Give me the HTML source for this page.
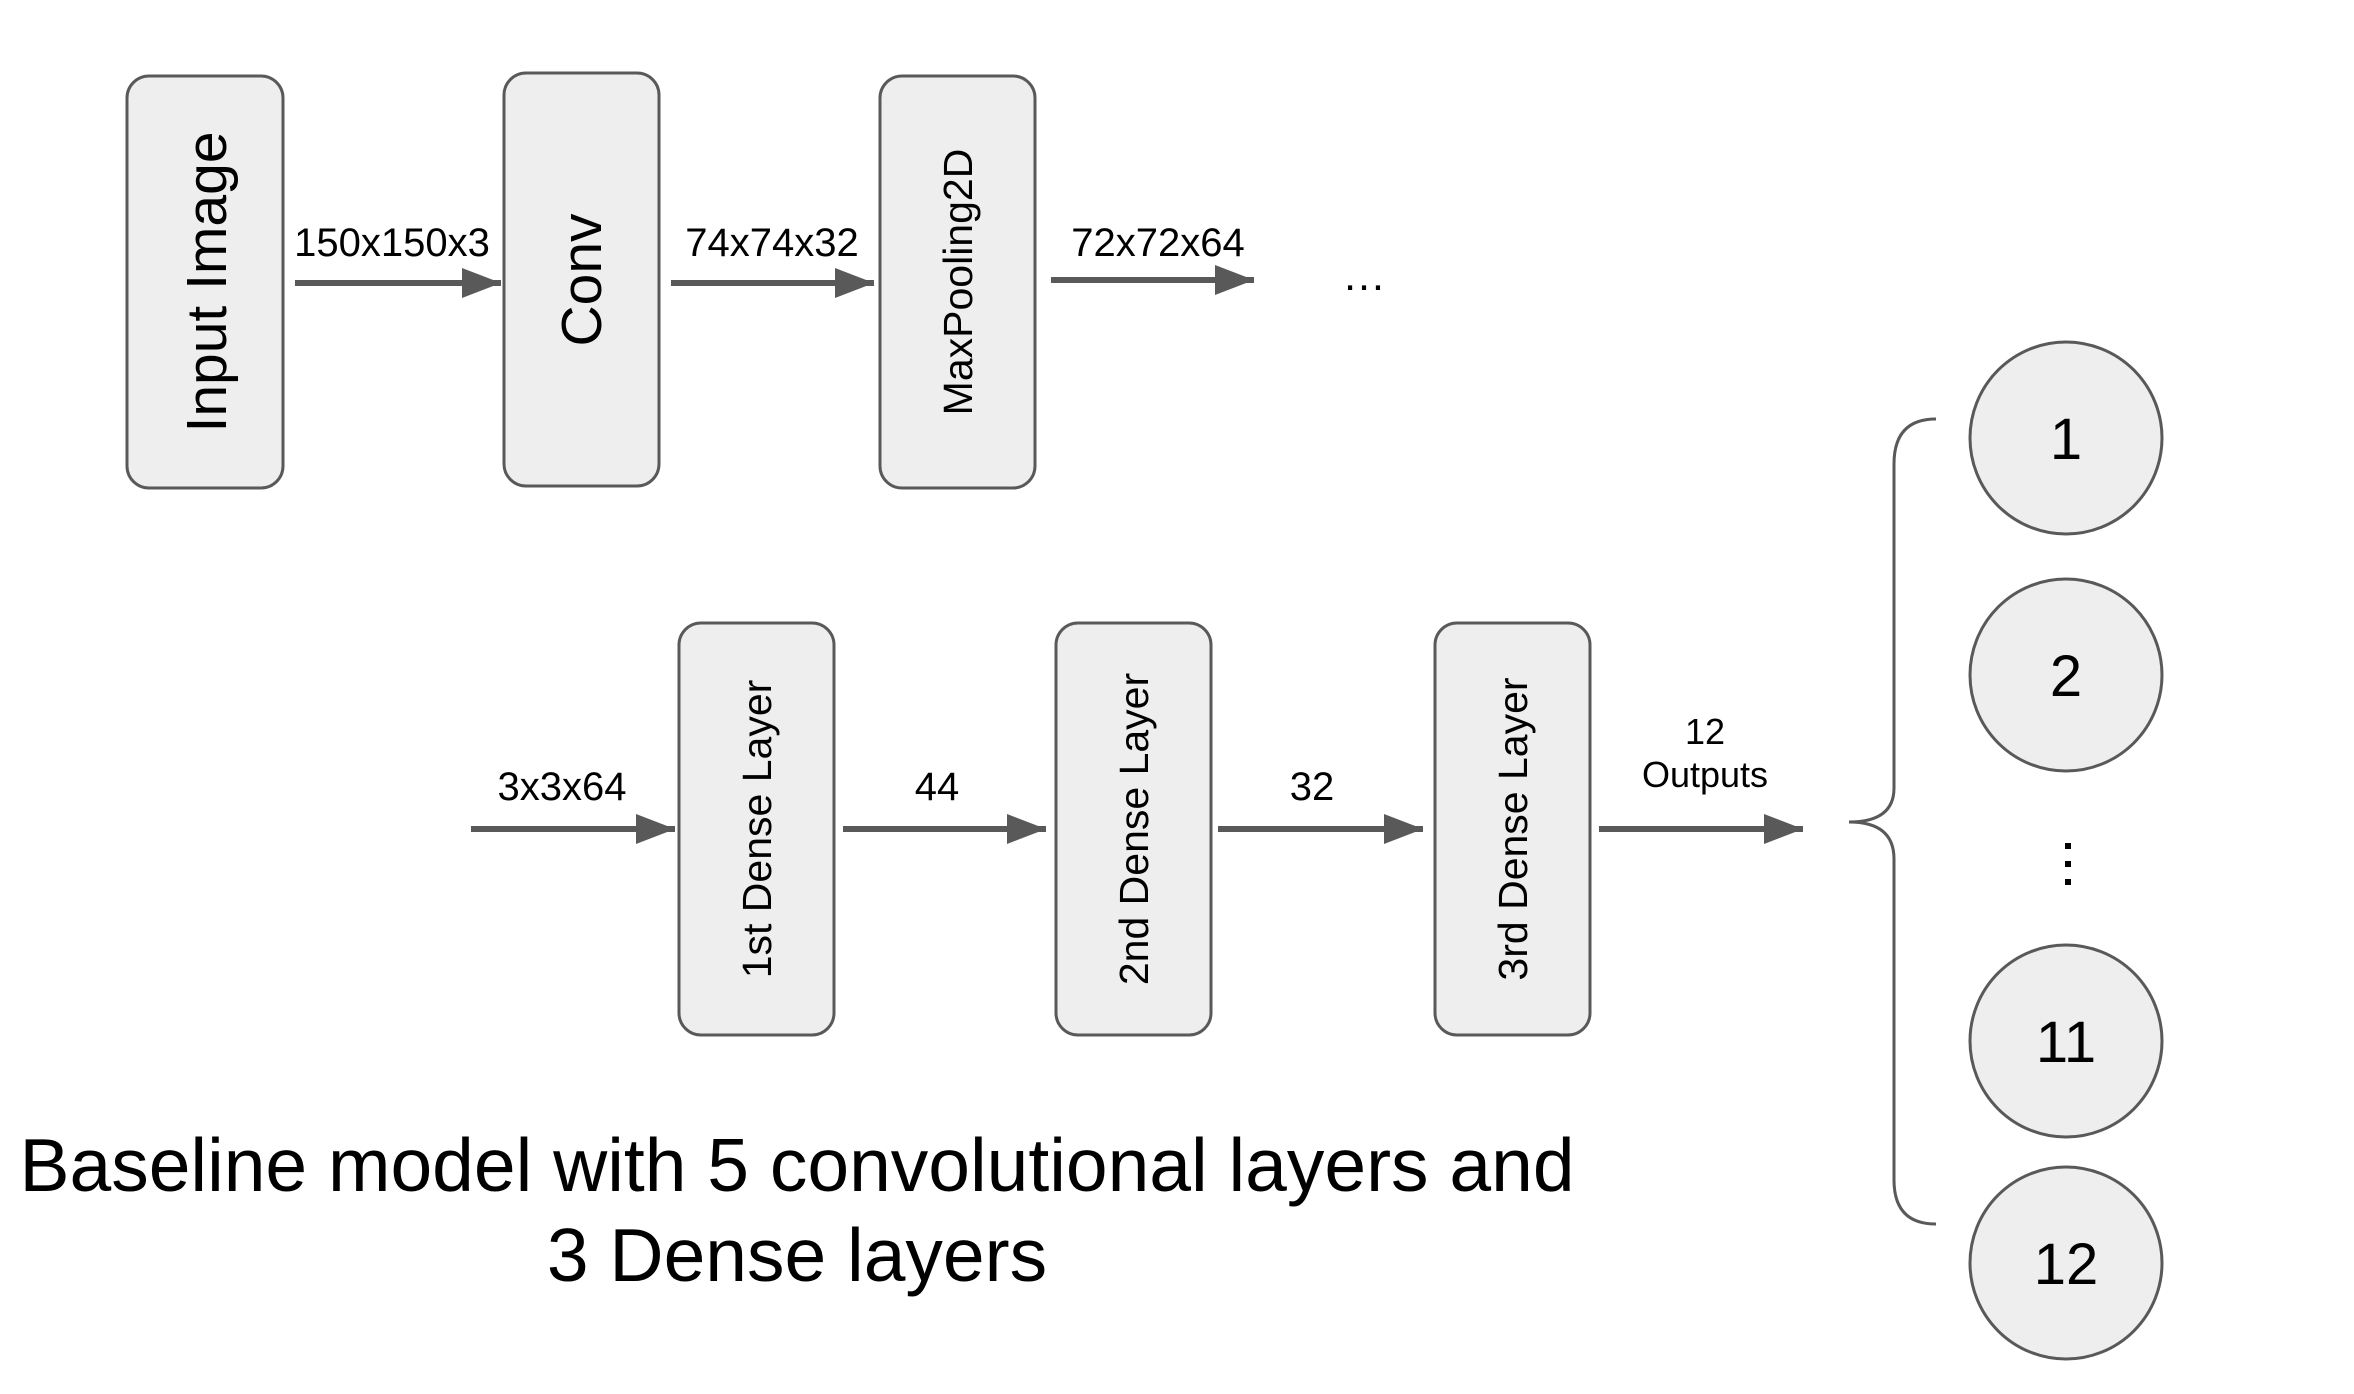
<!DOCTYPE html>
<html><head><meta charset="utf-8"><style>html,body{margin:0;padding:0;background:#fff}svg{display:block}</style></head>
<body>
<svg width="2354" height="1394" viewBox="0 0 2354 1394" xmlns="http://www.w3.org/2000/svg" font-family="Liberation Sans, sans-serif">
<defs>
<marker id="ah" viewBox="0 0 10 10" refX="10" refY="5" markerWidth="6.5" markerHeight="5" markerUnits="strokeWidth" orient="auto" preserveAspectRatio="none"><path d="M0,0 L10,5 L0,10 z" fill="#595959"/></marker>
</defs>
<g fill="#eeeeee" stroke="#595959" stroke-width="3">
<rect x="127" y="76" width="156" height="412" rx="22"/>
<rect x="504" y="73" width="155" height="413" rx="22"/>
<rect x="880" y="76" width="155" height="412" rx="22"/>
<rect x="679" y="623" width="155" height="412" rx="22"/>
<rect x="1056" y="623" width="155" height="412" rx="22"/>
<rect x="1435" y="623" width="155" height="412" rx="22"/>
<circle cx="2066" cy="438" r="96"/>
<circle cx="2066" cy="675" r="96"/>
<circle cx="2066" cy="1041" r="96"/>
<circle cx="2066" cy="1263" r="96"/>
</g>
<g stroke="#595959" stroke-width="6" fill="none" marker-end="url(#ah)">
<line x1="295" y1="283" x2="501" y2="283"/>
<line x1="671" y1="283" x2="874" y2="283"/>
<line x1="1051" y1="280" x2="1254" y2="280"/>
<line x1="471" y1="829" x2="675" y2="829"/>
<line x1="843" y1="829" x2="1046" y2="829"/>
<line x1="1218" y1="829" x2="1423" y2="829"/>
<line x1="1599" y1="829" x2="1803" y2="829"/>
</g>
<path d="M1936,419 Q1894,419 1894,464 L1894,788 Q1894,822 1849,822 Q1894,822 1894,859 L1894,1180 Q1894,1224 1936,1224" fill="none" stroke="#595959" stroke-width="3"/>
<g fill="#000" font-size="40" text-anchor="middle">
<text x="392" y="256">150x150x3</text>
<text x="772" y="256">74x74x32</text>
<text x="1158" y="256">72x72x64</text>
<text x="1364" y="290" font-size="44">…</text>
<text x="562" y="800">3x3x64</text>
<text x="937" y="800">44</text>
<text x="1312" y="800">32</text>
<text x="1705" y="744" font-size="36">12</text>
<text x="1705" y="787" font-size="36">Outputs</text>
</g>
<g fill="#000" text-anchor="middle">
<text transform="translate(226,282) rotate(-90)" font-size="57">Input Image</text>
<text transform="translate(601,280) rotate(-90)" font-size="57">Conv</text>
<text transform="translate(972,282) rotate(-90)" font-size="41">MaxPooling2D</text>
<text transform="translate(771,829) rotate(-90)" font-size="41">1st Dense Layer</text>
<text transform="translate(1148,829) rotate(-90)" font-size="41">2nd Dense Layer</text>
<text transform="translate(1527,829) rotate(-90)" font-size="41">3rd Dense Layer</text>
</g>
<g fill="#000" font-size="58" text-anchor="middle">
<text x="2066" y="459">1</text>
<text x="2066" y="696">2</text>
<text x="2066" y="1062">11</text>
<text x="2066" y="1284">12</text>
</g>
<g fill="#000"><rect x="2065" y="843" width="6" height="6"/><rect x="2065" y="861" width="6" height="6"/><rect x="2065" y="879" width="6" height="6"/></g>
<g fill="#000" font-size="75" text-anchor="middle">
<text x="797" y="1191">Baseline model with 5 convolutional layers and</text>
<text x="797" y="1281">3 Dense layers</text>
</g>
</svg>
</body></html>
